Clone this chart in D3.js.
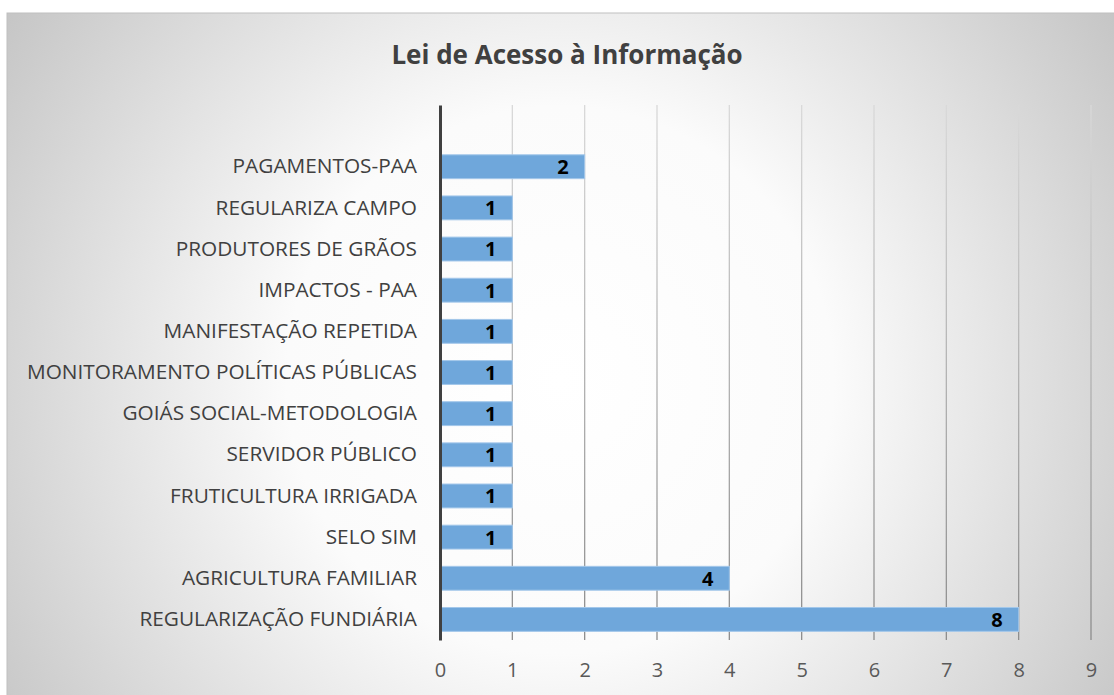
<!DOCTYPE html>
<html>
<head>
<meta charset="utf-8">
<script src="https://cdn.jsdelivr.net/npm/d3@7"></script>
<style>
  body { margin: 0; background: #fff; }
  svg { display: block; }
</style>
</head>
<body>
<div id="chartArea"></div>
<script>
const title = 'Lei de Acesso à Informação';

const categories = [
  'PAGAMENTOS-PAA',
  'REGULARIZA CAMPO',
  'PRODUTORES DE GRÃOS',
  'IMPACTOS - PAA',
  'MANIFESTAÇÃO REPETIDA',
  'MONITORAMENTO POLÍTICAS PÚBLICAS',
  'GOIÁS SOCIAL-METODOLOGIA',
  'SERVIDOR PÚBLICO',
  'FRUTICULTURA IRRIGADA',
  'SELO SIM',
  'AGRICULTURA FAMILIAR',
  'REGULARIZAÇÃO FUNDIÁRIA'
];

const values = [2, 1, 1, 1, 1, 1, 1, 1, 1, 1, 4, 8];

const xTicks = [0, 1, 2, 3, 4, 5, 6, 7, 8, 9];

const drawGraph = () => {
  const canvas = d3.select('#chartArea');

  const width = 1114;
  const height = 695;
  const margin = { top: 105, left: 440, bottom: 55, right: 23 };
  const font = "'Open Sans', sans-serif";

  const svg = canvas.append('svg')
    .attr('width', width)
    .attr('height', height);

  // Background gradients
  const defs = svg.append('defs');
  const bg = defs.append('radialGradient')
    .attr('id', 'bg')
    .attr('gradientUnits', 'userSpaceOnUse')
    .attr('cx', 560).attr('cy', 380).attr('r', 720);
  bg.append('stop').attr('offset', 0).attr('stop-color', '#ffffff');
  bg.append('stop').attr('offset', 0.38).attr('stop-color', '#fbfbfb');
  bg.append('stop').attr('offset', 1).attr('stop-color', '#bebebe');

  const gridGrad = defs.append('linearGradient')
    .attr('id', 'gridGrad')
    .attr('gradientUnits', 'userSpaceOnUse')
    .attr('x1', 0).attr('y1', margin.top)
    .attr('x2', 0).attr('y2', height - margin.bottom);
  gridGrad.append('stop').attr('offset', 0).attr('stop-color', '#d9d9d9');
  gridGrad.append('stop').attr('offset', 1).attr('stop-color', '#8c8c8c');

  svg.append('rect')
    .attr('x', 7).attr('y', 13)
    .attr('width', width).attr('height', height)
    .style('fill', 'url(#bg)')
    .style('stroke', '#bfbfbf');

  // Title
  svg.append('text')
    .attr('x', 567)
    .attr('y', 64)
    .attr('text-anchor', 'middle')
    .style('font-family', font)
    .style('font-size', '26px')
    .style('font-weight', 'bold')
    .style('fill', '#404040')
    .text(title);

  const x = d3.scaleLinear()
    .domain([0, 9])
    .range([margin.left, width - margin.right]);

  // blank slot on top, like the original sheet
  const y = d3.scaleBand()
    .domain([''].concat(categories))
    .range([margin.top, height - margin.bottom])
    .paddingInner(0.42)
    .paddingOuter(0.21);

  // Grid
  svg.append('g')
    .selectAll('line')
    .data(xTicks.slice(1))
    .enter()
    .append('line')
    .attr('x1', (d) => x(d))
    .attr('x2', (d) => x(d))
    .attr('y1', margin.top)
    .attr('y2', height - margin.bottom)
    .style('stroke', 'url(#gridGrad)')
    .style('stroke-width', 1.3);

  // X-Axis
  const xAxis = svg.append('g')
    .attr('transform', `translate(0,${height - margin.bottom})`)
    .call(d3.axisBottom(x).tickValues(xTicks).tickSize(0).tickPadding(23));
  xAxis.select('.domain').remove();
  xAxis.selectAll('text')
    .style('font-family', font)
    .style('font-size', '20px')
    .style('fill', '#595959');

  // Draw-bars
  const data = categories.map((c, i) => [c, values[i]]);
  svg.append('g')
    .selectAll('rect')
    .data(data)
    .enter()
    .append('rect')
    .attr('x', x(0))
    .attr('y', (d) => y(d[0]))
    .attr('width', (d) => x(d[1]) - x(0))
    .attr('height', y.bandwidth())
    .style('fill', '#6fa7db')
    .style('stroke', '#a3c7ea')
    .style('stroke-width', 1);

  // Bar labels
  svg.append('g')
    .selectAll('text')
    .data(data)
    .enter()
    .append('text')
    .attr('x', (d) => x(d[1]) - 16)
    .attr('y', (d) => y(d[0]) + y.bandwidth() / 2)
    .attr('dy', '0.37em')
    .attr('text-anchor', 'end')
    .style('font-family', font)
    .style('font-size', '20px')
    .style('font-weight', 'bold')
    .style('fill', '#000')
    .text((d) => d[1]);

  // Y-Axis
  const yAxis = svg.append('g')
    .attr('transform', `translate(${margin.left},0)`)
    .call(d3.axisLeft(y).tickSize(0).tickPadding(23));
  yAxis.select('.domain')
    .style('stroke', '#404040')
    .style('stroke-width', 3);
  yAxis.selectAll('text')
    .style('font-family', font)
    .style('font-size', '20.8px')
    .style('fill', '#404040');
};

drawGraph();
</script>
</body>
</html>
